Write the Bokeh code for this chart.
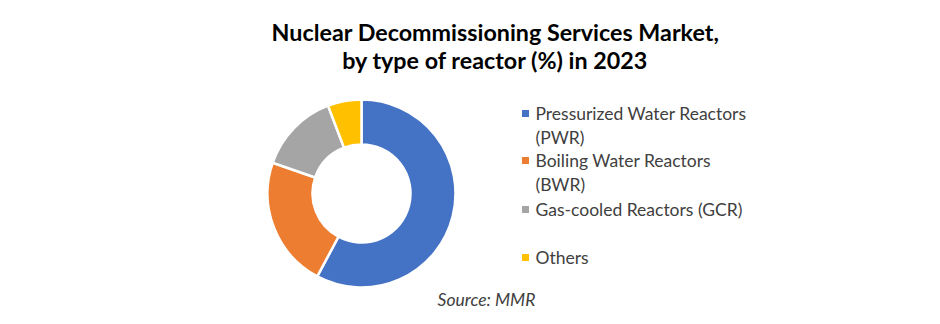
import numpy as np
from bokeh.plotting import figure
from bokeh.models import Range1d, ColumnDataSource
from bokeh.core.properties import value
from bokeh.embed import file_html
from bokeh.resources import INLINE

# ---- data ----
categories = ["Pressurized Water Reactors (PWR)", "Boiling Water Reactors (BWR)",
              "Gas-cooled Reactors (GCR)", "Others"]
shares = [57.8, 22.5, 13.9, 5.8]
colors = ["#4472C4", "#ED7D31", "#A5A5A5", "#FFC000"]
legend_lines = [["Pressurized Water Reactors", "(PWR)"],
                ["Boiling Water Reactors", "(BWR)"],
                ["Gas-cooled Reactors (GCR)", ""],
                ["Others"]]
title_lines = ["Nuclear Decommissioning Services Market,", "by type of reactor (%) in 2023"]
source_text = "Source: MMR"

W, H = 940, 324
FONT = "Lato"

p = figure(width=W, height=H, output_backend="svg", toolbar_location=None,
           x_range=Range1d(0, W), y_range=Range1d(0, H), min_border=0)
p.axis.visible = False
p.grid.visible = False
p.outline_line_color = None
p.background_fill_color = "white"
p.border_fill_color = "white"

# donut
frac = np.array(shares) / sum(shares)
cum = np.concatenate([[0], np.cumsum(frac)])
start = np.pi / 2 - cum[:-1] * 2 * np.pi
end = np.pi / 2 - cum[1:] * 2 * np.pi
src = ColumnDataSource(dict(start=start, end=end, color=colors))
cx, cy = 361, H - 193
p.annular_wedge(x=cx, y=cy, inner_radius=49, outer_radius=94, start_angle="start",
                end_angle="end", direction="clock", fill_color="color",
                line_color="white", line_width=2.5, source=src)

# title
p.text(x=[495, 495], y=[H - 31, H - 59], text=title_lines, text_align="center",
       text_baseline="middle", text_font=value(FONT), text_font_style="bold",
       text_font_size="23.3px", text_color="black")

# legend
ys = [113, 160, 209, 257]
step = 23.5
lx, ly, lt = [], [], []
for i, lines in enumerate(legend_lines):
    for j, t in enumerate(lines):
        if t:
            lx.append(535)
            ly.append(H - (ys[i] + j * step))
            lt.append(t)
p.text(x=lx, y=ly, text=lt, text_align="left", text_baseline="middle",
       text_font=value(FONT), text_font_size="17.5px", text_color="#404040")
p.rect(x=[525] * 4, y=[H - y for y in ys], width=7, height=7, fill_color=colors,
       line_color=None)

# source
p.text(x=[486], y=[H - 299], text=[source_text], text_align="center",
       text_baseline="middle", text_font=value(FONT), text_font_style="italic",
       text_font_size="17.5px", text_color="#404040")

open("out.html", "w").write(file_html(p, INLINE))
